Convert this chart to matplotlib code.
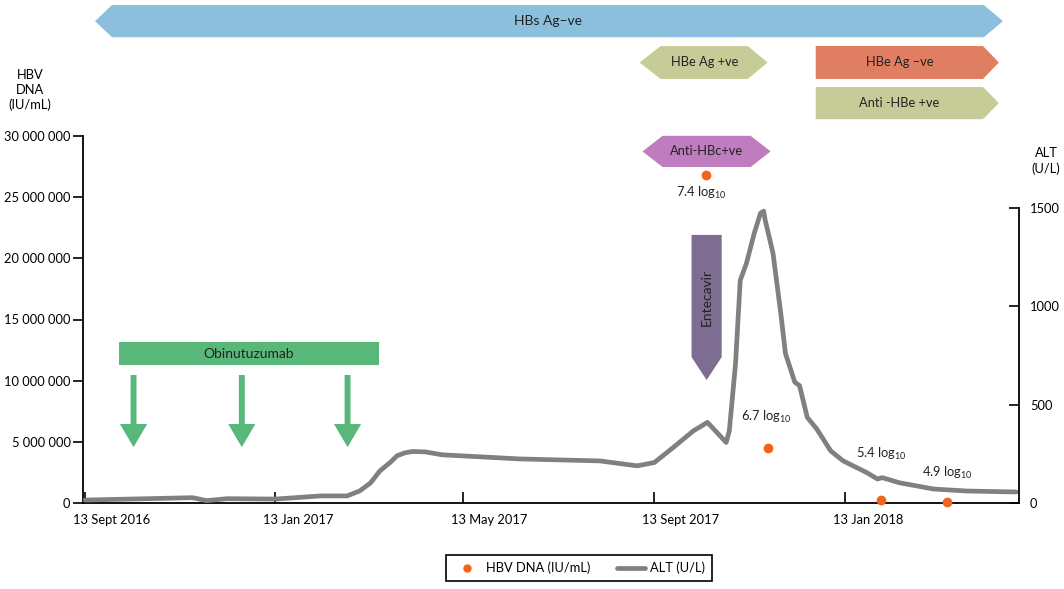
import datetime as dt
import matplotlib
matplotlib.use('Agg')
import matplotlib.pyplot as plt
import matplotlib.dates as mdates
import matplotlib.transforms as transforms
from matplotlib.patches import Polygon
from matplotlib.ticker import FuncFormatter
from matplotlib.lines import Line2D

plt.rcParams['font.family'] = ['Lato', 'DejaVu Sans']
plt.rcParams['mathtext.fontset'] = 'custom'
plt.rcParams['mathtext.rm'] = 'Lato'

FS = 9.3

# days counted from 13 Sept 2016
start = mdates.date2num(dt.datetime(2016, 9, 13))

alt_days = [0, 69, 72, 78, 91, 122, 151, 168, 176, 183, 189, 196, 200, 205, 210, 218, 229, 279,
            330, 354, 365, 377, 390, 399, 405, 411, 413, 417, 420, 424, 429, 433, 435, 436, 438,
            441, 446, 449, 455, 458, 463, 469, 478, 486, 501, 508, 511, 522, 544, 565, 597]
alt_values = [15, 27, 22, 12, 22, 20, 36, 36, 61, 102, 163, 209, 240, 255, 262, 260, 245, 224,
              214, 189, 206, 282, 367, 410, 359, 308, 367, 709, 1132, 1219, 1372, 1474, 1484,
              1438, 1372, 1270, 964, 760, 614, 597, 435, 377, 265, 214, 155, 122, 129, 103, 71,
              61, 56]

dna_days = [398, 437.6, 510.5, 552.5]
dna_values = [26.8e6, 4.5e6, 0.25e6, 0.05e6]
dna_labels = [r'7.4 log$_{10}$', r'6.7 log$_{10}$', r'5.4 log$_{10}$', r'4.9 log$_{10}$']
dna_label_offsets = [(-3, -13), (-1, 22), (0, 33), (0, 21)]

tick_dates = [dt.datetime(2016, 9, 13), dt.datetime(2017, 1, 13), dt.datetime(2017, 5, 13),
              dt.datetime(2017, 9, 13), dt.datetime(2018, 1, 13)]
tick_labels = ['13 Sept 2016', '13 Jan 2017', '13 May 2017', '13 Sept 2017', '13 Jan 2018']

obinutuzumab_days = [31.1, 100.5, 168.3]

fig = plt.figure(figsize=(10.64, 5.89), dpi=100)
ax = fig.add_axes([83/1064, 86/589, 936/1064, 503/589])
ax2 = ax.twinx()

ax.set_xlim(start - 1.3, start + 598.7)
ax.set_ylim(0, 503/367*30e6)
ax2.set_ylim(0, 503/295*1500)

ax.plot([start + d for d in dna_days], dna_values, 'o', color='#f26419', markersize=6,
        linestyle='none', zorder=5, clip_on=False)
for d, v, lab, off in zip(dna_days, dna_values, dna_labels, dna_label_offsets):
    ax.annotate(lab, (start + d, v), xytext=off, textcoords='offset points',
                ha='center', va='center', fontsize=FS, color='#222222')

ax2.plot([start + d for d in alt_days], alt_values, color='#808080', linewidth=3.4,
         solid_joinstyle='round', solid_capstyle='round')

# axes styling
for a in (ax, ax2):
    a.spines['top'].set_visible(False)
ax.spines['right'].set_visible(False)
ax2.spines['left'].set_visible(False)
ax.spines['left'].set_bounds(0, 30e6)
ax2.spines['right'].set_bounds(0, 1500)
for s in ('left', 'bottom'):
    ax.spines[s].set_linewidth(1.3)
ax2.spines['right'].set_linewidth(1.3)
ax2.spines['bottom'].set_visible(False)

ax.set_yticks(range(0, 30000001, 5000000))
ax.yaxis.set_major_formatter(FuncFormatter(lambda v, p: f'{v:,.0f}'.replace(',', ' ')))
ax.tick_params(axis='y', direction='out', length=7, width=1.2, labelsize=FS, pad=2)
ax2.set_yticks([0, 500, 1000, 1500])
ax2.tick_params(axis='y', direction='in', length=7, width=1.2, labelsize=FS, pad=8)
ax.set_xticks([mdates.date2num(t) for t in tick_dates])
ax.set_xticklabels(tick_labels)
ax.tick_params(axis='x', direction='in', length=8, width=1.2, labelsize=FS, pad=8)
shift = transforms.ScaledTranslation(-12/100, 0, fig.dpi_scale_trans)
for lab in ax.get_xticklabels():
    lab.set_horizontalalignment('left')
    lab.set_transform(lab.get_transform() + shift)

fig.text(30/1064, 1 - 90/589, 'HBV\nDNA\n(IU/mL)', ha='center', va='center', fontsize=FS,
         linespacing=1.25)
fig.text(1046/1064, 1 - 161/589, 'ALT\n(U/L)', ha='center', va='center', fontsize=FS,
         linespacing=1.25)

tr = transforms.blended_transform_factory(ax2.transData, ax2.transAxes)


def banner(x0, x1, y0, y1, tip_l, tip_r, color, label, fs=FS):
    ym = (y0 + y1) / 2
    pts = [(start + x0, y0), (start + x1, y0), (start + x1 + tip_r, ym), (start + x1, y1),
           (start + x0, y1), (start + x0 - tip_l, ym)]
    ax2.add_patch(Polygon(pts, closed=True, transform=tr, facecolor=color, edgecolor='none',
                          clip_on=False, zorder=3))
    ax2.text(start + (x0 + x1) / 2, ym, label, transform=tr, ha='center', va='center',
             fontsize=fs, color='#222222', zorder=4)


banner(17.3, 576.2, 0.926, 0.990, 10.9, 12.2, '#8bbfdc', 'HBs Ag\u2013ve', 10)
banner(369, 424.8, 0.843, 0.9085, 13.5, 12.8, '#c6cb97', 'HBe Ag +ve')
banner(468.4, 575.6, 0.843, 0.9085, 0, 10.2, '#e07e63', 'HBe Ag \u2013ve')
banner(468.4, 575.6, 0.763, 0.827, 0, 10.2, '#c6cb97', 'Anti -HBe +ve')
banner(370.2, 426.7, 0.668, 0.730, 12.8, 12.8, '#bf7dbf', 'Anti-HBc+ve')

# Obinutuzumab bar
banner(21.8, 188.6, 0.274, 0.320, 0, 0, '#57b87a', 'Obinutuzumab', 10)
for d in obinutuzumab_days:
    c = start + d
    sw, hw = 1.9, 8.7
    pts = [(c - sw, 0.2545), (c + sw, 0.2545), (c + sw, 0.157), (c + hw, 0.157), (c, 0.111),
           (c - hw, 0.157), (c - sw, 0.157)]
    ax2.add_patch(Polygon(pts, closed=True, transform=tr, facecolor='#57b87a',
                          edgecolor='none', clip_on=False, zorder=3))

# Entecavir arrow
x0, x1 = start + 388.8, start + 408.1
pts = [(x0, 0.533), (x1, 0.533), (x1, 0.290), ((x0 + x1) / 2, 0.2445), (x0, 0.290)]
ax2.add_patch(Polygon(pts, closed=True, transform=tr, facecolor='#7c6d91', edgecolor='none',
                      clip_on=False, zorder=3))
ax2.text((x0 + x1) / 2, 0.4095, 'Entecavir', transform=tr, rotation=90, ha='center',
         va='center', fontsize=10, color='#222222', zorder=4)

handles = [Line2D([], [], marker='o', color='#f26419', linestyle='none', markersize=5),
           Line2D([], [], color='#808080', linewidth=3.4, solid_capstyle='round')]
fig.legend(handles, ['HBV DNA (IU/mL)', 'ALT (U/L)'], loc='center',
           bbox_to_anchor=(579/1064, 1 - 568/589), ncol=2, fancybox=False,
           edgecolor='black', fontsize=FS, handlelength=2.2, columnspacing=2.0,
           handletextpad=0.4, borderpad=0.5, framealpha=1).get_frame().set_linewidth(1.2)

fig.savefig('out.png', dpi=100)
